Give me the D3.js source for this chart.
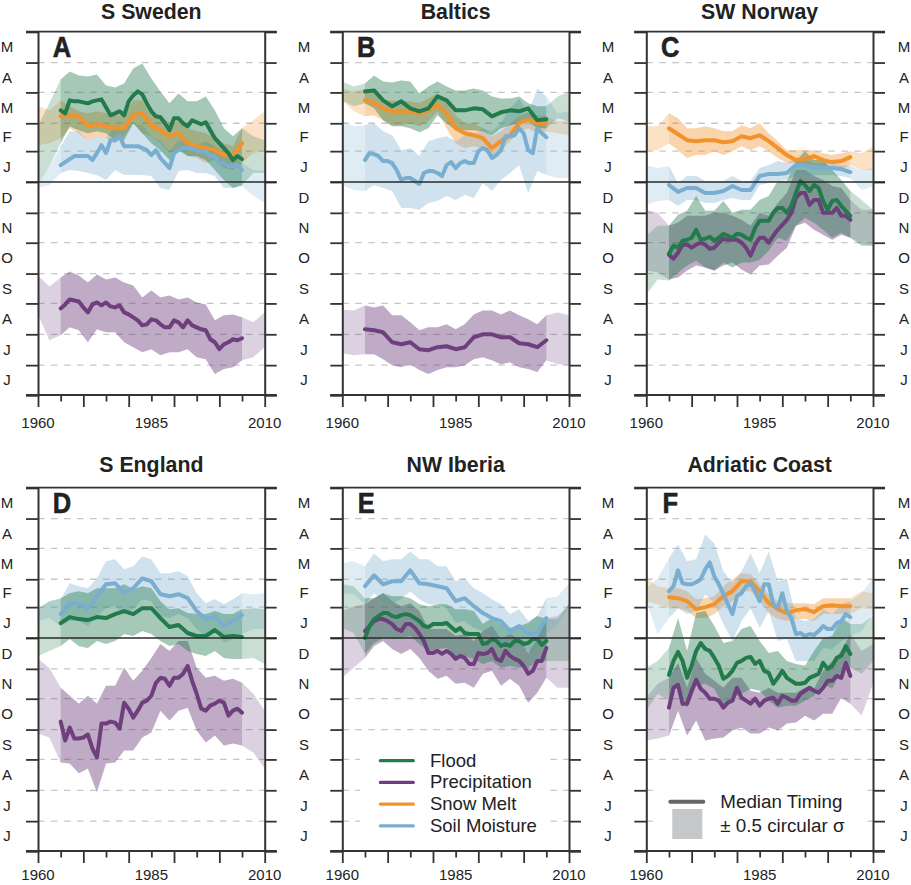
<!DOCTYPE html>
<html><head><meta charset="utf-8">
<script src="https://cdn.jsdelivr.net/npm/d3@7/dist/d3.min.js"></script>
<style>html,body{margin:0;padding:0;background:#fff}svg{display:block}text{font-family:"Liberation Sans",Arial,sans-serif;fill:#222}</style>
</head><body><svg id="c" width="911" height="885"></svg>
<script>
// Values are days relative to 1 January (positive = later in spring, negative = previous autumn)
const lineYears=[1965,1967,1969,1971,1973,1975,1977,1979,1981,1983,1985,1987,1989,1991,1993,1995,1997,1999,2001,2003,2005];
const evenYears=[1966,1968,1970,1972,1974,1976,1978,1980,1982,1984,1986,1988,1990,1992,1994,1996,1998,2000,2002,2004];
const bandYears=[1960,1962.5,...lineYears,2007.5,2010];
const monthEdges=[151,120,90,59,31,0,-31,-61,-92,-122,-153,-184,-214];
const monthLabels=["M","A","M","F","J","D","N","O","S","A","J","J"];
const yearTicks=[1960,1965,1970,1975,1980,1985,1990,1995,2000,2005,2010];
const yearLabels=[1960,1985,2010];

const A_flood=[72,82,81,79,82,75,69,67,87,88,71,65,52,64,56,60,60,44,34,22,23];
const A_flood_even=[69,81,80,81,83,67,71,81,91,79,66,59,64,59,62,58,52,39,29,26];
const A_flood_hi=[56,79,103,111,107,106,108,97,95,99,114,119,104,91,79,89,81,81,86,72,54,46,54,46,42];
const A_flood_lo=[-4,16,39,56,52,49,51,49,42,42,59,49,39,32,22,32,26,26,22,12,2,-6,-3,9,9];
const A_snow=[66,67,66,56,58,56,54,54,67,69,57,52,46,49,39,36,34,32,27,26,39];
const A_snow_hi=[76,72,82,76,71,69,71,69,67,67,82,82,67,67,59,61,54,51,49,44,39,36,54,62,71];
const A_snow_lo=[37,39,44,54,49,42,46,44,39,46,59,49,46,39,29,34,26,24,19,22,14,12,19,29,31];
const A_soil=[17,23,26,26,29,29,42,36,36,34,27,24,14,32,34,31,31,26,19,16,12];
const A_soil_even=[20,26,26,22,37,42,46,36,36,32,32,19,29,34,34,31,26,19,16,17];
const A_soil_hi=[-4,16,36,51,51,42,46,44,57,54,59,57,46,41,31,42,42,37,41,36,27,26,19,12,11];
const A_soil_lo=[-6,-3,9,12,11,9,7,2,12,7,7,7,6,-6,-8,11,12,9,9,6,-6,-6,-4,-14,-21];
const A_prec=[-127,-118,-120,-131,-121,-121,-126,-131,-136,-144,-138,-143,-146,-141,-139,-146,-149,-161,-163,-158,-157];
const A_prec_even=[-123,-119,-126,-123,-124,-125,-124,-133,-139,-143,-139,-146,-139,-146,-144,-148,-158,-168,-161,-159];
const A_prec_hi=[-94,-105,-96,-90,-94,-101,-93,-98,-96,-101,-104,-116,-109,-116,-114,-118,-116,-121,-123,-139,-134,-133,-136,-141,-131];
const A_prec_lo=[-133,-159,-154,-146,-149,-161,-148,-151,-151,-161,-166,-171,-168,-174,-171,-171,-168,-176,-178,-193,-188,-186,-179,-176,-166];

const B_flood=[91,92,82,76,81,74,71,74,86,82,72,72,74,73,66,70,72,71,74,62,63];
const B_flood_hi=[101,96,99,107,101,100,102,101,89,96,101,96,92,92,94,92,86,84,84,86,79,76,76,86,91];
const B_flood_lo=[82,76,79,74,62,56,56,54,50,54,67,59,52,52,52,51,47,54,57,59,61,54,54,64,61];
const B_snow=[82,79,74,71,71,71,69,72,77,69,54,49,47,44,34,41,47,59,63,59,59];
const B_snow_hi=[94,91,94,89,82,82,81,81,79,84,89,79,67,59,59,54,46,51,59,66,69,67,66,61,62];
const B_snow_lo=[82,71,66,67,62,57,57,59,56,61,71,54,39,34,36,34,22,31,41,51,54,49,51,49,47];
const B_soil=[22,28,21,19,2,4,-2,11,9,17,14,21,19,34,24,32,46,54,32,54,45];
const B_soil_even=[29,26,21,12,4,1,9,11,6,20,19,19,31,32,27,46,47,49,29,49];
const B_soil_hi=[61,56,57,59,51,47,32,34,26,41,44,46,41,47,47,54,51,59,74,84,69,94,86,69,71];
const B_soil_lo=[-3,-8,-9,-3,-6,-9,-26,-26,-28,-21,-19,-14,-18,-13,-16,-1,-9,2,9,17,-11,11,7,4,4];
const B_prec=[-148,-149,-151,-161,-163,-161,-168,-169,-166,-165,-168,-166,-156,-153,-153,-156,-156,-162,-163,-166,-159];
const B_prec_hi=[-128,-129,-124,-126,-124,-134,-134,-141,-149,-146,-146,-143,-148,-143,-133,-129,-129,-133,-129,-134,-138,-143,-134,-131,-134];
const B_prec_lo=[-172,-174,-173,-173,-178,-184,-186,-183,-189,-193,-189,-186,-186,-184,-178,-176,-179,-183,-181,-186,-188,-191,-179,-183,-184];

const C_snow=[54,48,42,41,42,42,40,41,46,44,47,41,34,27,22,23,26,22,20,21,25];
const C_snow_hi=[56,56,69,64,54,54,56,54,51,51,57,54,59,49,41,32,32,32,32,29,27,29,31,29,36];
const C_snow_lo=[31,32,39,32,24,27,27,31,27,31,36,32,36,31,24,19,19,17,17,16,14,12,17,12,12];
const C_soil=[-3,-10,-6,-6,-11,-11,-9,-4,-8,-8,6,8,8,9,17,17,14,14,14,13,10];
const C_soil_hi=[17,14,16,-1,6,6,1,1,1,6,1,1,14,17,21,19,24,22,19,19,19,17,16,12,14];
const C_soil_lo=[-23,-19,-18,-24,-18,-18,-21,-21,-18,-16,-18,-18,-3,-1,1,2,7,7,7,7,7,6,4,-8,-4];
const C_flood=[-72,-66,-58,-48,-57,-59,-52,-56,-53,-58,-39,-39,-26,-31,-11,-3,-3,-19,-19,-24,-34];
const C_flood_even=[-64,-59,-56,-58,-55,-56,-54,-52,-56,-46,-39,-31,-26,-24,1,-9,-6,-28,-18,-29];
const C_flood_hi=[-54,-44,-44,-33,-29,-14,-29,-29,-19,-31,-28,-28,-18,-14,1,1,21,31,22,22,12,2,-9,-18,-28];
const C_flood_lo=[-113,-98,-99,-91,-84,-79,-86,-89,-81,-86,-81,-81,-78,-69,-56,-59,-44,-36,-41,-48,-56,-51,-56,-64,-64];
const C_prec=[-73,-71,-63,-63,-63,-66,-57,-58,-61,-74,-56,-61,-48,-38,-16,-11,-18,-31,-31,-34,-38];
const C_prec_even=[-77,-63,-66,-61,-67,-61,-58,-58,-66,-63,-56,-54,-43,-31,-11,-23,-18,-31,-26,-34];
const C_prec_hi=[-28,-31,-44,-41,-34,-34,-34,-31,-31,-34,-38,-44,-31,-34,-21,-11,12,12,6,2,-4,-6,-18,-28,-28];
const C_prec_lo=[-89,-91,-98,-96,-89,-84,-86,-89,-84,-81,-88,-93,-84,-83,-74,-66,-44,-41,-48,-53,-58,-53,-56,-63,-64];

const D_soil=[24,35,35,30,42,54,55,45,50,60,57,44,42,44,40,27,19,22,12,17,23];
const D_soil_hi=[30,37,39,55,52,50,60,77,79,69,72,82,79,65,65,67,62,45,35,39,34,39,45,44,45];
const D_soil_lo=[17,20,12,17,17,12,22,30,32,24,29,39,37,22,20,24,20,9,2,7,-5,-1,4,9,9];
const D_flood=[15,21,19,18,21,20,24,27,24,30,30,20,11,13,5,2,2,8,1,2,1];
const D_flood_hi=[30,37,40,45,47,45,50,50,50,54,49,52,50,37,29,30,25,24,24,27,24,24,29,30,29];
const D_flood_lo=[-18,-13,-8,-1,-8,-10,-3,-6,-3,4,2,7,4,-3,-8,-6,-13,-16,-18,-13,-20,-21,-21,-20,-26];
const D_prec=[-84,-90,-101,-97,-120,-86,-85,-65,-80,-65,-58,-40,-48,-40,-28,-56,-73,-66,-65,-73,-75];
const D_prec_even=[-103,-101,-100,-111,-86,-84,-91,-71,-73,-63,-45,-41,-40,-36,-43,-71,-68,-63,-78,-71];
const D_prec_hi=[-21,-30,-50,-58,-66,-58,-66,-48,-48,-30,-43,-33,-20,-6,-13,-3,-3,-30,-40,-38,-43,-41,-45,-56,-73];
const D_prec_lo=[-96,-100,-125,-126,-136,-131,-155,-126,-125,-113,-113,-100,-95,-73,-83,-73,-70,-93,-105,-98,-108,-106,-108,-115,-131];

const E_soil=[52,63,54,57,57,68,55,54,52,50,37,40,32,25,20,17,7,12,4,5,20];
const E_soil_hi=[75,77,72,85,77,79,79,87,79,79,72,72,57,60,50,45,39,34,24,29,17,22,40,42,55];
const E_soil_lo=[45,44,34,45,37,35,39,47,39,34,34,30,15,17,10,7,2,-3,-10,-6,-13,-10,4,14,30];
const E_flood=[0,19,25,22,23,23,17,11,14,15,7,5,4,-6,-1,-8,-8,-3,-5,-1,-3];
const E_flood_even=[12,22,25,21,24,20,12,14,14,11,10,4,4,-5,-3,-6,-3,-6,-1,-7];
const E_flood_hi=[54,52,40,40,45,42,42,40,34,32,34,34,29,29,27,14,20,14,10,12,15,22,19,19,34];
const E_flood_lo=[10,5,-16,-5,0,-1,0,2,-6,-13,-11,-10,-18,-18,-21,-26,-23,-30,-28,-30,-30,-23,-23,-23,-23];
const E_prec=[7,17,19,14,7,14,4,-15,-13,-13,-21,-20,-26,-16,-11,-23,-18,-23,-36,-23,-10];
const E_prec_even=[12,19,17,9,14,10,-3,-15,-16,-16,-18,-26,-15,-15,-21,-13,-21,-28,-33,-23];
const E_prec_hi=[27,32,34,40,45,37,32,35,27,9,9,9,2,4,-3,7,12,-1,4,-1,-15,-1,20,22,34];
const E_prec_lo=[-40,-30,-20,-8,-3,-11,-16,-11,-20,-33,-41,-38,-46,-45,-50,-36,-33,-48,-41,-48,-65,-55,-40,-50,-50];

const F_soil=[47,68,54,56,69,62,44,24,45,55,37,54,30,27,4,2,3,12,9,17,21];
const F_soil_even=[52,55,54,59,76,54,34,42,52,47,54,34,45,20,5,4,7,9,15,24];
const F_soil_hi=[50,60,80,94,77,79,104,95,67,55,67,85,65,87,57,60,20,17,19,29,24,34,37,45,60];
const F_soil_lo=[37,4,20,30,24,27,44,35,14,-3,17,30,10,27,-3,-1,-23,-23,-23,-10,-11,-3,2,7,24];
const F_snow=[41,40,37,29,31,34,42,47,57,57,47,35,29,25,28,29,26,32,33,32,32];
const F_snow_hi=[60,52,50,50,47,39,40,42,52,59,65,64,54,44,37,35,35,35,34,40,40,40,40,47,45];
const F_snow_lo=[37,34,30,30,27,20,20,24,32,37,47,47,37,25,19,17,19,19,17,24,24,24,24,30,29];
const F_flood=[-37,-14,-40,-13,-11,-20,-41,-33,-23,-19,-23,-35,-40,-40,-46,-45,-38,-25,-28,-18,-16];
const F_flood_even=[-23,-23,-28,-5,-13,-28,-38,-25,-20,-26,-33,-46,-33,-43,-46,-40,-36,-31,-20,-8];
const F_flood_hi=[-30,-23,-10,20,-13,25,27,12,-5,-3,9,12,-3,-15,-13,-23,-26,-28,-13,0,2,20,14,14,22];
const F_flood_lo=[-73,-56,-63,-46,-70,-48,-46,-51,-68,-60,-56,-51,-53,-63,-70,-68,-68,-63,-58,-46,-51,-33,-30,-36,-23];
const F_prec=[-70,-47,-66,-42,-55,-61,-70,-63,-60,-66,-68,-61,-66,-60,-63,-53,-53,-50,-43,-40,-38];
const F_prec_even=[-50,-66,-53,-51,-61,-63,-65,-50,-63,-61,-63,-60,-58,-63,-56,-50,-55,-43,-38,-25];
const F_prec_hi=[-60,-46,-40,-25,-50,-20,-36,-43,-50,-40,-40,-53,-55,-50,-55,-55,-55,-50,-51,-33,-23,-13,4,-13,-6];
const F_prec_lo=[-103,-101,-98,-73,-98,-83,-103,-101,-100,-93,-90,-96,-96,-90,-93,-86,-85,-78,-83,-76,-76,-60,-66,-78,-46];

const colors={flood:"#237a4c",prec:"#6e3f7c",snow:"#f2922a",soil:"#7aaed0"};
const legendNames=["Flood","Precipitation","Snow Melt","Soil Moisture"];
const legendKeys=["flood","prec","snow","soil"];

const panels=[
 {t:"S Sweden",l:"A",x0:38,y0:31.7,lab:7,s:[["prec",A_prec,A_prec_hi,A_prec_lo,A_prec_even],["snow",A_snow,A_snow_hi,A_snow_lo],["soil",A_soil,A_soil_hi,A_soil_lo,A_soil_even],["flood",A_flood,A_flood_hi,A_flood_lo,A_flood_even]]},
 {t:"Baltics",l:"B",x0:342.3,y0:31.7,lab:304,s:[["prec",B_prec,B_prec_hi,B_prec_lo],["snow",B_snow,B_snow_hi,B_snow_lo],["soil",B_soil,B_soil_hi,B_soil_lo,B_soil_even],["flood",B_flood,B_flood_hi,B_flood_lo]]},
 {t:"SW Norway",l:"C",x0:646.3,y0:31.7,lab:608,labR:904,s:[["prec",C_prec,C_prec_hi,C_prec_lo,C_prec_even],["snow",C_snow,C_snow_hi,C_snow_lo],["soil",C_soil,C_soil_hi,C_soil_lo],["flood",C_flood,C_flood_hi,C_flood_lo,C_flood_even]]},
 {t:"S England",l:"D",x0:38,y0:487.7,lab:7,s:[["prec",D_prec,D_prec_hi,D_prec_lo,D_prec_even],["soil",D_soil,D_soil_hi,D_soil_lo],["flood",D_flood,D_flood_hi,D_flood_lo]]},
 {t:"NW Iberia",l:"E",x0:342.3,y0:487.7,lab:304,legend:"series",s:[["prec",E_prec,E_prec_hi,E_prec_lo,E_prec_even],["soil",E_soil,E_soil_hi,E_soil_lo],["flood",E_flood,E_flood_hi,E_flood_lo,E_flood_even]]},
 {t:"Adriatic Coast",l:"F",x0:646.3,y0:487.7,lab:608,labR:904,legend:"key",s:[["prec",F_prec,F_prec_hi,F_prec_lo,F_prec_even],["snow",F_snow,F_snow_hi,F_snow_lo],["soil",F_soil,F_soil_hi,F_soil_lo,F_soil_even],["flood",F_flood,F_flood_hi,F_flood_lo,F_flood_even]]}
];

const W=226.7,H=363.3,INK="#333";
const svg=d3.select("#c");
const x=d3.scaleLinear().domain([1960,2010]).range([0,W]);
const y=d3.scaleLinear().domain([-214,151]).range([H,0]);
const mid=i=>(monthEdges[i]+monthEdges[i+1])/2;
const outerA={flood:.24,prec:.24,snow:.27,soil:.24}, innerA={flood:.22,prec:.26,snow:.16,soil:.15};

panels.forEach((p,pi)=>{
 const g=svg.append("g").attr("transform",`translate(${p.x0},${p.y0})`);
 // top-row titles sit just inside the page edge
 g.append("text").attr("x",W/2).attr("y",pi<3?-12.4:-15.7).attr("text-anchor","middle").attr("font-size",21.3).attr("font-weight","bold").text(p.t);

 g.append("g").selectAll("line").data(monthEdges.filter(d=>d!==0&&d!==151&&d!==-214)).join("line")
  .attr("x1",0).attr("x2",W).attr("y1",y).attr("y2",y)
  .attr("stroke","#c6c6c6").attr("stroke-width",1.3).attr("stroke-dasharray","6.5 6.5");

 const area=d3.area().x(d=>x(d.yr)).y0(d=>y(d.lo)).y1(d=>y(d.hi));
 p.s.forEach(([k,m,hi,lo])=>{
  const rows=bandYears.map((yr,i)=>({yr,hi:hi[i],lo:lo[i]}));
  g.append("path").attr("d",area(rows)).attr("fill",colors[k]).attr("opacity",outerA[k]);
  g.append("path").attr("d",area(rows.filter(r=>r.yr>=1965&&r.yr<=2005))).attr("fill",colors[k]).attr("opacity",innerA[k]);
 });
 const line=d3.line().x(d=>x(d.yr)).y(d=>y(d.v));
 p.s.forEach(([k,m,hi,lo,even])=>{
  let pts=m.map((v,i)=>({yr:lineYears[i],v}));
  if(even) pts=pts.concat(even.map((v,i)=>({yr:evenYears[i],v}))).sort((a,b)=>a.yr-b.yr);
  g.append("path").attr("d",line(pts)).attr("fill","none")
   .attr("stroke",colors[k]).attr("stroke-width",4).attr("stroke-linejoin","round").attr("stroke-linecap","round");
 });

 if(p.legend==="series"){
  g.append("rect").attr("x",18).attr("y",265).attr("width",190).attr("height",85).attr("fill","#fff");
  legendNames.forEach((n,i)=>{
   const yy=273+i*21.7;
   g.append("line").attr("x1",38).attr("x2",71).attr("y1",yy).attr("y2",yy).attr("stroke",colors[legendKeys[i]]).attr("stroke-width",3.2).attr("stroke-linecap","round");
   g.append("text").attr("x",87.7).attr("y",yy+6).attr("font-size",18.5).text(n);
  });
 }
 if(p.legend==="key"){
  g.append("rect").attr("x",9).attr("y",290).attr("width",212).attr("height",65).attr("fill","#fff");
  g.append("line").attr("x1",24).attr("x2",57).attr("y1",314).attr("y2",314).attr("stroke","#666").attr("stroke-width",4).attr("stroke-linecap","round");
  g.append("rect").attr("x",26).attr("y",321.3).attr("width",30).attr("height",30).attr("fill","#c5c7c9");
  g.append("text").attr("x",74).attr("y",320).attr("font-size",18.8).text("Median Timing");
  g.append("text").attr("x",74).attr("y",344).attr("font-size",18.8).text("± 0.5 circular σ");
 }

 const axL=d3.axisLeft(y).tickValues(monthEdges).tickSize(12).tickFormat("");
 const axR=d3.axisRight(y).tickValues(monthEdges).tickSize(12).tickFormat("");
 const gl=g.append("g").call(axL); const gr=g.append("g").attr("transform",`translate(${W},0)`).call(axR);
 [gl,gr].forEach(a=>{a.selectAll("path").attr("stroke",INK).attr("stroke-width",2);a.selectAll("line").attr("stroke",INK).attr("stroke-width",1.8)});

 const axB=d3.axisBottom(x).tickValues(yearTicks).tickSize(11).tickFormat("");
 const gb=g.append("g").attr("transform",`translate(0,${H})`).call(axB);
 gb.select("path").remove();
 gb.selectAll("line").attr("stroke",INK).attr("stroke-width",1.8).attr("y2",d=>d%10===0?12:6.5);

 [151,-214,0].forEach(d=>g.append("line").attr("x1",-12).attr("x2",W+12).attr("y1",y(d)).attr("y2",y(d)).attr("stroke",d===0?"#2a2a2a":INK).attr("stroke-width",d===0?1.6:1.8));

 const xs=[p.lab-p.x0]; if(p.labR) xs.push(p.labR-p.x0);
 xs.forEach(lx=>{
  g.append("g").selectAll("text").data(monthLabels).join("text").attr("x",lx).attr("y",(d,i)=>y(mid(i))+5.3)
   .attr("text-anchor","middle").attr("font-size",15).text(d=>d);
 });
 // bottom row labels sit just inside the page edge
 g.append("g").selectAll("text").data(yearLabels).join("text").attr("x",x).attr("y",H+(pi<3?33:29.5))
  .attr("text-anchor","middle").attr("font-size",15).text(d=>d);
 g.append("text").attr("x",24).attr("y",25.5).attr("text-anchor","middle").attr("transform",`translate(${24*0.15},0) scale(0.85,1)`)
  .attr("font-size",30).attr("font-weight","bold").attr("stroke","#222").attr("stroke-width",.6).text(p.l);
});
</script></body></html>
